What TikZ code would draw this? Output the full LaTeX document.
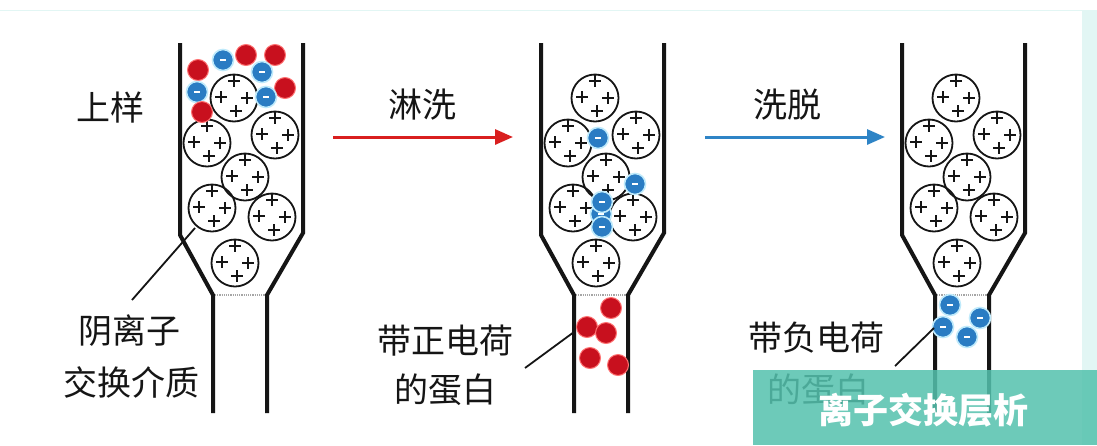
\documentclass[tikz,border=0pt]{standalone}
\usepackage{fontspec}
\newfontfamily\cjk{Noto Sans CJK SC}
\usetikzlibrary{arrows.meta}

\definecolor{ink}{HTML}{151515}
\definecolor{posred}{HTML}{C8101E}
\definecolor{negblue}{HTML}{2A7CC3}
\definecolor{washred}{HTML}{D91F1F}
\definecolor{elublue}{HTML}{2E84C6}
\definecolor{bannerteal}{HTML}{55C2AE}
\definecolor{paleframe}{HTML}{E2F6F4}

\tikzset{
  wall/.style={line width=4pt, draw=ink, line join=miter},
  frit/.style={line width=1.2pt, draw=gray!70, densely dotted},
  plusmark/.style={line width=2.6pt, draw=ink},
  bead/.style={circle, draw=ink, line width=1.8pt, minimum size=47pt, inner sep=0pt,
    path picture={
      \foreach \px/\py in {0/-17,-13/-1,13/0,2/13}
        \draw[plusmark] ([shift={(\px,\py)}]path picture bounding box.center)
          +(-6,0) -- +(6,0) +(0,-6) -- +(0,6);
    }},
  cation/.style={circle, minimum size=21pt, inner sep=0pt, fill=posred,
    draw=red!55!white, line width=1pt},
  anion/.style={circle, minimum size=21pt, inner sep=0pt, fill=negblue,
    draw=cyan!25!white, line width=1.6pt,
    path picture={
      \draw[white, line width=1.6pt]
        ([xshift=-3pt]path picture bounding box.center) --
        ([xshift=3pt]path picture bounding box.center);
    }},
  label/.style={font=\cjk\fontsize{34}{40}\selectfont, text=ink, inner sep=0pt},
  leader/.style={line width=1.8pt, draw=ink},
  flow/.style={line width=3pt, -{Triangle[length=18pt,width=15pt]}},
}

\begin{document}
\begin{tikzpicture}[x=1pt, y=-1pt]
  \useasboundingbox (0,0) rectangle (1097,445);
  \fill[white] (0,0) rectangle (1097,445);

  % faint frame: top rule and right-hand band
  \draw[paleframe, line width=1pt] (0,10) -- (1082,10);
  \fill[paleframe] (1082,10) rectangle (1097,445);

  % three columns: tube walls, frit and packed resin beads
  \foreach \c/\dx in {1/0, 2/361, 3/722} {
    \begin{scope}[xshift=\dx pt]
      \draw[wall] (180,43) -- (180,235) -- (213,295) -- (213,413);
      \draw[wall] (303,43) -- (303,233) -- (267,295) -- (267,413);
      \draw[frit] (215,295) -- (265,295);
      \node[bead] (b\c-1) at (234,98)  {};
      \node[bead] (b\c-2) at (207,143) {};
      \node[bead] (b\c-3) at (275,135) {};
      \node[bead] (b\c-4) at (245,177) {};
      \node[bead] (b\c-5) at (212,208) {};
      \node[bead] (b\c-6) at (272,217) {};
      \node[bead] (b\c-7) at (235,263) {};
    \end{scope}
  }

  % column 1: loaded sample, mixed charges at the top
  \node[cation] (s1) at (198,70)  {};
  \node[anion]  (s2) at (223,60)  {};
  \node[cation] (s3) at (246,55)  {};
  \node[cation] (s4) at (275,55)  {};
  \node[anion]  (s5) at (262,72)  {};
  \node[cation] (s6) at (285,88)  {};
  \node[anion]  (s7) at (197,92)  {};
  \node[anion]  (s8) at (266,97)  {};
  \node[cation] (s9) at (202,112) {};

  % column 2: anions held on the resin, cations washed out
  \node[anion] (w1) at (598,138) {};
  \node[anion] (w2) at (635,184) {};
  \node[anion] (w3) at (601,214) {};
  \node[anion] (w4) at (602,202) {};
  \node[anion] (w5) at (602,227) {};
  \node[cation] (w6)  at (611,308) {};
  \node[cation] (w7)  at (587,327) {};
  \node[cation] (w8)  at (606,333) {};
  \node[cation] (w9)  at (590,358) {};
  \node[cation] (w10) at (618,365) {};

  % column 3: eluted anions
  \node[anion] (e1) at (950,305) {};
  \node[anion] (e2) at (980,318) {};
  \node[anion] (e3) at (943,327) {};
  \node[anion] (e4) at (967,337) {};

  % step labels and arrows
  \node[label] (load)  at (110,108) {上样};
  \node[label] (wash)  at (422,105) {淋洗};
  \node[label] (elute) at (787,105) {洗脱};
  \coordinate (wa) at (333,137);
  \coordinate (wb) at (513,137);
  \coordinate (ea) at (705,137);
  \coordinate (eb) at (885,137);
  \draw[flow, washred] (wa) -- (wb);
  \draw[flow, elublue] (ea) -- (eb);

  % callouts
  \node[label] (res1) at (129,331) {阴离子};
  \node[label] (res2) at (131,382) {交换介质};
  \node[label] (pos1) at (445,341) {带正电荷};
  \node[label] (pos2) at (445,390) {的蛋白};
  \node[label] (neg1) at (816,338) {带负电荷};
  \node[label] (neg2) at (818,390) {的蛋白};
  \coordinate (r-a) at (132,300);
  \coordinate (r-b) at (195,228);
  \coordinate (p-a) at (525,368);
  \coordinate (p-b) at (574,332);
  \coordinate (n-a) at (895,366);
  \coordinate (n-b) at (934,328);
  \draw[leader] (r-a) -- (r-b);
  \draw[leader] (p-a) -- (p-b);
  \draw[leader] (n-a) -- (n-b);

  % title banner laid over the lower right corner
  \fill[bannerteal, fill opacity=0.86] (753,370) rectangle (1097,445);
  \node[font=\cjk\bfseries\fontsize{35}{40}\selectfont, text=white, inner sep=0pt]
    (title) at (923,410) {离子交换层析};
\end{tikzpicture}
\end{document}
